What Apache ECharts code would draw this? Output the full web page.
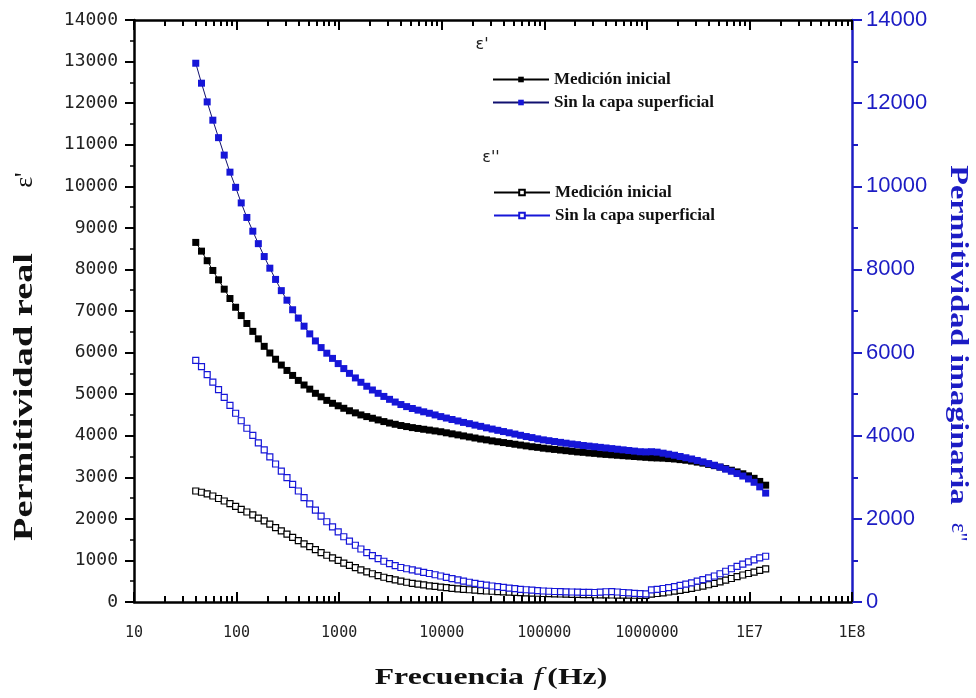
<!DOCTYPE html>
<html>
<head>
<meta charset="utf-8">
<script src="https://cdn.jsdelivr.net/npm/echarts@6/dist/echarts.min.js"></script>
<style>
  html, body { margin: 0; padding: 0; background: #fff; }
  #chart { width: 976px; height: 698px; }
</style>
</head>
<body>
<div id="chart"></div>
<script>
// Frequency sweep (Hz)
const freqHz = [
  40, 45.5, 51.7, 58.7, 66.7, 75.8, 86.2, 97.9, 111, 126, 144, 163, 186, 211, 240, 273, 310, 352,
  400, 455, 517, 587, 667, 758, 862, 979, 1110, 1260, 1440, 1630, 1860, 2110, 2400, 2730, 3100, 3520,
  4000, 4550, 5170, 5870, 6670, 7580, 8620, 9790, 11100, 12600, 14400, 16300, 18600, 21100, 24000, 27300, 31000, 35200,
  40000, 45500, 51700, 58700, 66700, 75800, 86200, 97900, 111000, 126000, 144000, 163000, 186000, 211000, 240000, 273000, 310000, 352000,
  400000, 455000, 517000, 587000, 667000, 758000, 862000, 979000, 1110000, 1260000, 1440000, 1630000, 1860000, 2110000, 2400000, 2730000, 3100000, 3520000,
  4000000, 4550000, 5170000, 5870000, 6670000, 7580000, 8620000, 9790000, 11100000, 12600000, 14400000
];

// ε' (left axis)
const epsRealInicial = [
  8650, 8440, 8210, 7975, 7750, 7525, 7300, 7090, 6890, 6700,
  6510, 6330, 6150, 5990, 5840, 5700, 5570, 5450, 5330, 5220,
  5120, 5020, 4935, 4850, 4780, 4720, 4660, 4600, 4550, 4500,
  4460, 4420, 4380, 4340, 4305, 4275, 4245, 4220, 4195, 4175,
  4155, 4135, 4115, 4095, 4070, 4045, 4020, 3995, 3970, 3945,
  3920, 3900, 3875, 3855, 3835, 3815, 3795, 3775, 3755, 3735,
  3720, 3700, 3685, 3670, 3655, 3640, 3625, 3610, 3600, 3585,
  3575, 3560, 3550, 3540, 3530, 3520, 3510, 3500, 3490, 3480,
  3470, 3465, 3460, 3450, 3440, 3425, 3410, 3390, 3365, 3340,
  3310, 3280, 3245, 3210, 3170, 3130, 3085, 3035, 2975, 2900, 2810
];
const epsRealSinCapa = [
  12960, 12480, 12030, 11590, 11170, 10750, 10340, 9975, 9600, 9250,
  8920, 8620, 8310, 8030, 7760, 7490, 7260, 7030, 6830, 6635,
  6450, 6280, 6120, 5985, 5860, 5735, 5615, 5500, 5390, 5285,
  5190, 5100, 5020, 4945, 4875, 4810, 4750, 4700, 4655, 4615,
  4575, 4540, 4500, 4460, 4425, 4390, 4355, 4320, 4290, 4255,
  4225, 4190, 4160, 4130, 4100, 4070, 4040, 4010, 3980, 3955,
  3925, 3900, 3880, 3860, 3840, 3820, 3800, 3785, 3765, 3750,
  3735, 3720, 3705, 3690, 3675, 3660, 3645, 3630, 3615, 3610,
  3615, 3605, 3580, 3555, 3530, 3500, 3470, 3440, 3405, 3370,
  3330, 3290, 3245, 3195, 3145, 3090, 3030, 2960, 2880, 2770, 2620
];

// ε'' (right axis)
const epsImagInicial = [
  2670, 2640, 2600, 2550, 2490, 2430, 2365, 2300, 2230, 2165,
  2095, 2020, 1950, 1875, 1790, 1710, 1635, 1555, 1475, 1400,
  1330, 1260, 1190, 1125, 1060, 1000, 935, 880, 825, 775,
  725, 680, 635, 595, 560, 530, 500, 475, 450, 430,
  410, 390, 375, 360, 345, 330, 318, 305, 295, 285,
  275, 265, 258, 250, 243, 237, 231, 225, 220, 215,
  210, 205, 200, 196, 192, 188, 185, 182, 179, 176,
  174, 172, 170, 168, 166, 165, 163, 162, 160, 160,
  190, 205, 220, 240, 260, 280, 305, 330, 355, 380,
  415, 450, 485, 525, 565, 610, 650, 685, 720, 760, 795
];
const epsImagSinCapa = [
  5810, 5660, 5470, 5290, 5110, 4920, 4730, 4540, 4360, 4180,
  4010, 3830, 3660, 3490, 3320, 3150, 2990, 2830, 2670, 2510,
  2360, 2210, 2065, 1930, 1805, 1685, 1570, 1465, 1365, 1275,
  1190, 1115, 1045, 980, 925, 875, 830, 800, 775, 745,
  715, 685, 655, 625, 590, 560, 530, 500, 475, 450,
  425, 405, 385, 370, 350, 335, 320, 305, 295, 285,
  275, 265, 258, 252, 248, 244, 240, 236, 232, 230,
  228, 238, 246, 250, 240, 228, 218, 208, 200, 195,
  290, 305, 325, 345, 370, 400, 430, 460, 500, 540,
  580, 625, 680, 740, 800, 855, 910, 965, 1015, 1060, 1100
];

const xTickValues = [10, 100, 1000, 10000, 100000, 1000000, 10000000, 100000000];
const xTickLabels = ['10', '100', '1000', '10000', '100000', '1000000', '1E7', '1E8'];

const seriesNames = ["Medición inicial (ε')", "Sin la capa superficial (ε')", "Medición inicial (ε'')", "Sin la capa superficial (ε'')"];

const xMinorTicks = [];
for (let i = 0; i < xTickValues.length - 1; i++) {
  for (let m = 2; m <= 9; m++) xMinorTicks.push(xTickValues[i] * m);
}

function pairs(ys) { return freqHz.map((f, i) => [f, ys[i]]); }
function legendLabel(name) { return name.replace(/ \(ε'+\)$/, ''); }

const BLUE = '#1616d8';
const AXIS_BLUE = '#1c1cc4';

const chart = echarts.init(document.getElementById('chart'), null, { renderer: 'canvas' });

function logAxis(position, showLine, ticks, tickLen, showLabel) {
  return {
    type: 'log', logBase: 10, min: 10, max: 100000000, position: position,
    axisLine: { show: showLine, onZero: false, lineStyle: { color: '#000', width: 2.5 } },
    axisTick: { show: true, inside: true, length: tickLen, customValues: ticks, lineStyle: { color: '#000', width: 2 } },
    axisLabel: showLabel ? {
      show: true, customValues: xTickValues,
      formatter: v => xTickLabels[Math.round(Math.log10(v)) - 1],
      fontFamily: 'DejaVu Sans Mono', fontSize: 15, color: '#222', margin: 24
    } : { show: false },
    splitLine: { show: false },
    minorTick: { show: false },
    minorSplitLine: { show: false }
  };
}

const option = {
  backgroundColor: '#fff',
  animation: false,
  grid: { left: 134, right: 124, top: 20, bottom: 96, show: false },
  xAxis: [
    logAxis('bottom', true, xTickValues, 10, true),
    logAxis('bottom', false, xMinorTicks, 6, false),
    logAxis('top', true, xTickValues, 10, false),
    logAxis('top', false, xMinorTicks, 6, false)
  ],
  yAxis: [
    {
      type: 'value', min: 0, max: 14000, interval: 1000, position: 'left',
      axisLine: { show: true, onZero: false, lineStyle: { color: '#000', width: 2.5 } },
      axisTick: { show: true, length: 9, lineStyle: { color: '#000', width: 2 } },
      minorTick: { show: true, splitNumber: 2, length: 4, lineStyle: { color: '#000', width: 1.5 } },
      axisLabel: { formatter: v => String(v), fontFamily: 'DejaVu Sans Mono', fontSize: 18, color: '#222', margin: 16 },
      splitLine: { show: false }
    },
    {
      type: 'value', min: 0, max: 14000, interval: 2000, position: 'right',
      axisLine: { show: true, onZero: false, lineStyle: { color: AXIS_BLUE, width: 2.5 } },
      axisTick: { show: true, length: 10, lineStyle: { color: AXIS_BLUE, width: 2 } },
      minorTick: { show: true, splitNumber: 2, length: 6, lineStyle: { color: AXIS_BLUE, width: 2 } },
      axisLabel: { formatter: v => String(v), fontFamily: 'Liberation Sans', fontSize: 22, color: AXIS_BLUE, margin: 14 },
      splitLine: { show: false }
    }
  ],
  legend: [
    {
      data: [seriesNames[0], seriesNames[1]], orient: 'vertical', left: 487, top: 66,
      itemWidth: 56, itemHeight: 7, itemGap: 6, selectedMode: false, formatter: legendLabel,
      textStyle: { fontFamily: 'Liberation Serif', fontWeight: 'bold', fontSize: 17, color: '#111' }
    },
    {
      data: [seriesNames[2], seriesNames[3]], orient: 'vertical', left: 488, top: 179,
      itemWidth: 56, itemHeight: 7, itemGap: 6, selectedMode: false, formatter: legendLabel,
      textStyle: { fontFamily: 'Liberation Serif', fontWeight: 'bold', fontSize: 17, color: '#111' }
    }
  ],
  series: [
    {
      name: seriesNames[0], type: 'line', xAxisIndex: 0, yAxisIndex: 0, data: pairs(epsRealInicial),
      symbol: 'rect', symbolSize: 7, itemStyle: { color: '#000' }, lineStyle: { color: '#000', width: 1 }
    },
    {
      name: seriesNames[1], type: 'line', xAxisIndex: 0, yAxisIndex: 0, data: pairs(epsRealSinCapa),
      symbol: 'rect', symbolSize: 7, itemStyle: { color: BLUE }, lineStyle: { color: '#101070', width: 1 }
    },
    {
      name: seriesNames[2], type: 'line', xAxisIndex: 0, yAxisIndex: 1, data: pairs(epsImagInicial),
      symbol: 'rect', symbolSize: 6, itemStyle: { color: '#fff', borderColor: '#000', borderWidth: 1.2 },
      lineStyle: { color: '#000', width: 1 }
    },
    {
      name: seriesNames[3], type: 'line', xAxisIndex: 0, yAxisIndex: 1, data: pairs(epsImagSinCapa),
      symbol: 'rect', symbolSize: 6, itemStyle: { color: '#fff', borderColor: BLUE, borderWidth: 1.2 },
      lineStyle: { color: BLUE, width: 1 }
    }
  ],
  graphic: [
    {
      type: 'text', x: 491, y: 678, scaleX: 1.38,
      style: {
        text: '{a|Frecuencia}  {b|f} {a|(Hz)}', align: 'center', verticalAlign: 'middle',
        rich: {
          a: { fontFamily: 'Liberation Serif', fontWeight: 'bold', fontSize: 23, fill: '#111' },
          b: { fontFamily: 'Liberation Serif', fontStyle: 'italic', fontSize: 25, fill: '#111' }
        }
      }
    },
    {
      type: 'text', x: 25, y: 397, rotation: Math.PI / 2, scaleX: 1.37,
      style: { text: 'Permitividad real', align: 'center', verticalAlign: 'middle',
        fontFamily: 'Liberation Serif', fontWeight: 'bold', fontSize: 28, fill: '#111' }
    },
    {
      type: 'text', x: 25, y: 180, rotation: Math.PI / 2,
      style: { text: "ε'", align: 'center', verticalAlign: 'middle',
        fontFamily: 'Liberation Serif', fontSize: 26, fill: '#111' }
    },
    {
      type: 'text', x: 958, y: 335, rotation: -Math.PI / 2, scaleX: 1.24,
      style: { text: 'Permitividad imaginaria', align: 'center', verticalAlign: 'middle',
        fontFamily: 'Liberation Serif', fontWeight: 'bold', fontSize: 26, fill: AXIS_BLUE }
    },
    {
      type: 'text', x: 958, y: 532, rotation: -Math.PI / 2,
      style: { text: "ε''", align: 'center', verticalAlign: 'middle',
        fontFamily: 'Liberation Serif', fontSize: 24, fill: AXIS_BLUE }
    },
    {
      type: 'text', x: 482, y: 45,
      style: { text: "ε'", align: 'center', verticalAlign: 'middle',
        fontFamily: 'DejaVu Sans', fontSize: 16, fill: '#222' }
    },
    {
      type: 'text', x: 491, y: 158,
      style: { text: "ε''", align: 'center', verticalAlign: 'middle',
        fontFamily: 'DejaVu Sans', fontSize: 16, fill: '#222' }
    }
  ]
};

chart.setOption(option);
</script>
</body>
</html>
